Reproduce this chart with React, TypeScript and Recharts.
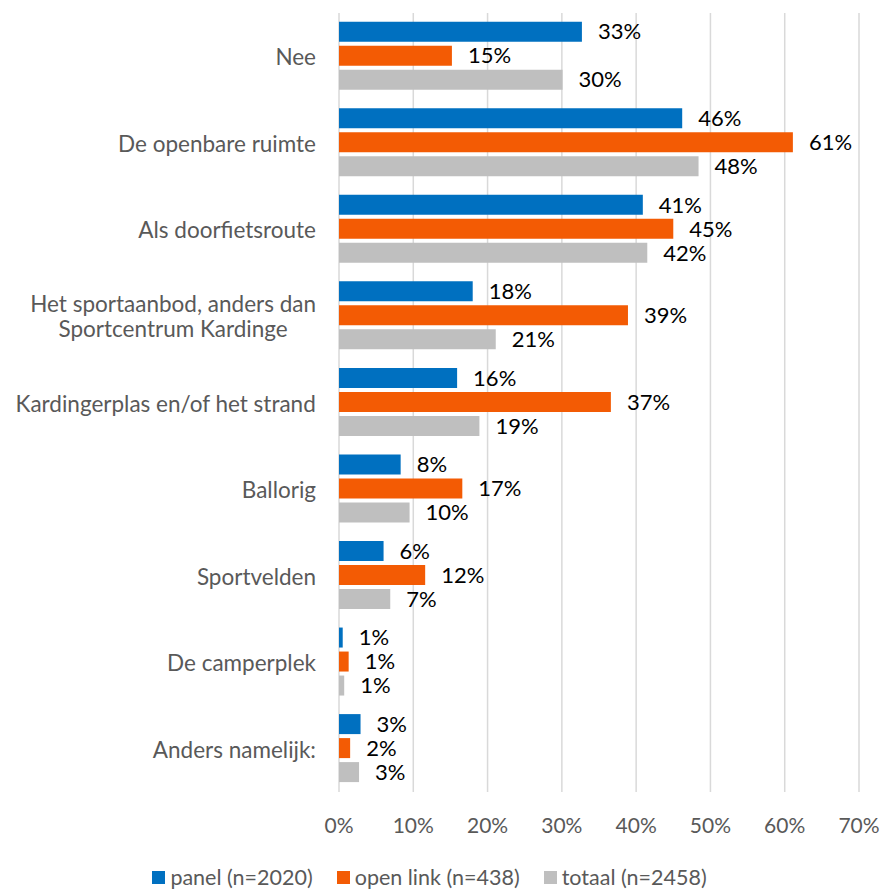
import React from "react";
import { Bar, BarChart, CartesianGrid, LabelList, Legend, XAxis, YAxis } from "recharts";

const categories = [
    "Nee",
    "De openbare ruimte",
    "Als doorfietsroute",
    "Het sportaanbod, anders dan\nSportcentrum Kardinge",
    "Kardingerplas en/of het strand",
    "Ballorig",
    "Sportvelden",
    "De camperplek",
    "Anders namelijk:",
];

const panel = [32.7, 46.2, 40.9, 18.0, 15.9, 8.3, 6.0, 0.5, 2.9];
const openLink = [15.2, 61.1, 45.0, 38.9, 36.6, 16.6, 11.6, 1.3, 1.5];
const totaal = [30.1, 48.4, 41.5, 21.1, 18.9, 9.5, 6.9, 0.7, 2.7];

const xTicks = [0, 10, 20, 30, 40, 50, 60, 70];

const series = [
    { key: "panel", name: "panel (n=2020)", color: "#0070C0" },
    { key: "openLink", name: "open link (n=438)", color: "#F35B04" },
    { key: "totaal", name: "totaal (n=2458)", color: "#BFBFBF" },
];

const data = categories.map((name, i) => ({
    name,
    panel: panel[i],
    openLink: openLink[i],
    totaal: totaal[i],
}));

const FONT = "Lato, 'Open Sans', sans-serif";
const CAT_SIZE = 22.5;

let ctx: CanvasRenderingContext2D | null = null;
function measure(text: string) {
    if (!ctx) ctx = document.createElement("canvas").getContext("2d");
    if (!ctx) return text.length * CAT_SIZE * 0.5;
    ctx.font = `${CAT_SIZE}px Lato`;
    return ctx.measureText(text).width;
}

function CategoryTick(props: any) {
    const { x, y, payload } = props;
    const lines: string[] = String(payload.value).split("\n");
    const lineH = 25;
    const maxW = Math.max(...lines.map(measure));
    const cx = x - maxW / 2;
    const startY = y - ((lines.length - 1) * lineH) / 2;
    return (
        <text
            x={cx}
            y={startY}
            textAnchor="middle"
            fill="#595959"
            fontSize={CAT_SIZE}
            fontFamily={FONT}
            dominantBaseline="central"
        >
            {lines.map((l, i) => (
                <tspan key={i} x={cx} y={startY + i * lineH}>
                    {l}
                </tspan>
            ))}
        </text>
    );
}

function LegendContent() {
    return (
        <div
            style={{
                height: 48,
                display: "flex",
                justifyContent: "center",
                alignItems: "center",
                paddingTop: 22,
                boxSizing: "border-box",
                fontFamily: FONT,
                fontSize: 21.5,
                color: "#595959",
            }}
        >
            {series.map((s) => (
                <div key={s.key} style={{ display: "flex", alignItems: "center", margin: "0 12px" }}>
                    <span style={{ width: 13, height: 13, background: s.color, marginRight: 5 }} />
                    <span>{s.name}</span>
                </div>
            ))}
        </div>
    );
}

export default function App() {
    return (
        <div style={{ width: 883, height: 890, background: "#fff" }}>
            <style>{`body{margin:0}`}</style>
            <BarChart
                width={883}
                height={890}
                data={data}
                layout="vertical"
                margin={{ top: 13, right: 24, bottom: 0, left: 0 }}
                barCategoryGap="10%"
                barGap={4}
            >
                <CartesianGrid horizontal={false} stroke="#D9D9D9" strokeWidth={1.5} />
                <XAxis
                    type="number"
                    domain={[0, 70]}
                    ticks={xTicks}
                    tickFormatter={(v: number) => `${v}%`}
                    axisLine={false}
                    tickLine={false}
                    tickSize={0}
                    tickMargin={26}
                    height={50}
                    tick={{ fill: "#595959", fontSize: 21, fontFamily: FONT }}
                />
                <YAxis
                    type="category"
                    dataKey="name"
                    width={339}
                    axisLine={false}
                    tickLine={false}
                    tickSize={0}
                    tickMargin={23}
                    interval={0}
                    tick={<CategoryTick />}
                />
                <Legend verticalAlign="bottom" content={<LegendContent />} />
                {series.map((s) => (
                    <Bar key={s.key} dataKey={s.key} name={s.name} fill={s.color} isAnimationActive={false}>
                        <LabelList
                            dataKey={s.key}
                            position="right"
                            offset={16}
                            formatter={(v: any) => `${Math.round(Number(v))}%`}
                            fill="#000"
                            fontSize={22}
                            fontFamily={FONT}
                        />
                    </Bar>
                ))}
            </BarChart>
        </div>
    );
}
